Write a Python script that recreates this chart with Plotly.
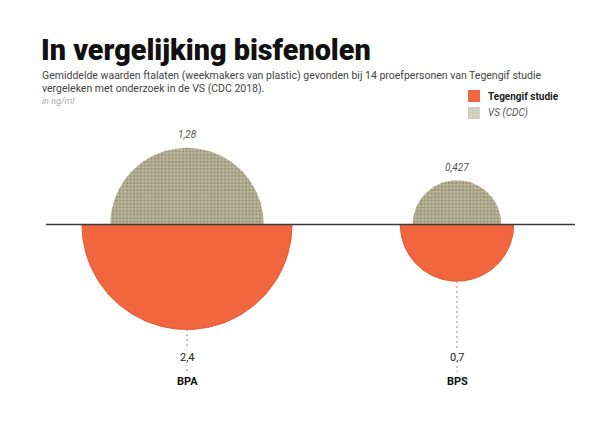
import numpy as np
import plotly.graph_objects as go

# data (ng/ml)
compounds = ["BPA", "BPS"]
tegengif = [2.4, 0.7]
vs_cdc = [1.28, 0.427]
tegengif_labels = ["2,4", "0,7"]
vs_labels = ["1,28", "0,427"]

ORANGE = "#f1653f"
ORANGE_EDGE = "#e9552f"
KHAKI = "#9b9574"

# layout in pixel-like units: y = 0 is the baseline
W, H = 600, 425
PAGE = 8  # body margin of the html page
BASE = 224.5
R_MAX = 105
centers = [187, 457]


def radius(v):
    # area proportional to value
    return R_MAX * np.sqrt(v / max(tegengif))


def half_circle(cx, r, up=True):
    t = np.linspace(0, np.pi, 120)
    xs = cx + r * np.cos(t)
    ys = r * np.sin(t) * (1 if up else -1)
    return xs, ys


fig = go.Figure()

pattern = dict(shape="+", fgcolor="white", bgcolor=KHAKI, size=3.5, solidity=0.38, fillmode="overlay")

for cx, name, t_val, v_val, t_lab, v_lab in zip(centers, compounds, tegengif, vs_cdc,
                                                 tegengif_labels, vs_labels):
    rt = radius(t_val)
    rv = radius(v_val)

    # dotted leader under the orange half
    fig.add_trace(go.Scatter(x=[cx, cx], y=[-rt, BASE - 372], mode="lines",
                             line=dict(color="#9a9a9a", width=1.5, dash="1.5px,3.5px"),
                             hoverinfo="skip", showlegend=False))

    xs, ys = half_circle(cx, rt, up=False)
    fig.add_trace(go.Scatter(x=xs, y=ys, mode="lines", fill="toself", fillcolor=ORANGE,
                             line=dict(color=ORANGE_EDGE, width=1),
                             hoverinfo="skip", showlegend=False))

    xs, ys = half_circle(cx, rv, up=True)
    fig.add_trace(go.Scatter(x=xs, y=ys, mode="lines", fill="toself",
                             fillpattern=pattern, fillcolor="rgba(0,0,0,0)",
                             line=dict(width=0, color="rgba(0,0,0,0)"),
                             hoverinfo="skip", showlegend=False))

    fig.add_annotation(x=cx, y=rv + 13, text=f"<i>{v_lab}</i>", showarrow=False,
                       font=dict(size=10, color="#555555"))
    fig.add_annotation(x=cx, y=BASE - 357, text=t_lab, showarrow=False, bgcolor="white",
                       font=dict(size=11, color="#222222"))
    fig.add_annotation(x=cx, y=BASE - 381, text=f"<b>{name}</b>", showarrow=False,
                       bgcolor="white", font=dict(size=11, color="#111111"))

# baseline
fig.add_trace(go.Scatter(x=[46, 575], y=[0, 0], mode="lines",
                         line=dict(color="#3a3a3a", width=1.6),
                         hoverinfo="skip", showlegend=False))

# legend swatches
sq = 12
for y_px, kw in [(90, dict(fillcolor=ORANGE)),
                 (107, dict(fillcolor="rgba(0,0,0,0)",
                            fillpattern=dict(shape="+", fgcolor="white", bgcolor="#c9c6b4",
                                             size=2.5, solidity=0.3)))]:
    y0 = BASE - y_px
    fig.add_trace(go.Scatter(x=[468, 468 + sq, 468 + sq, 468, 468],
                             y=[y0, y0, y0 - sq, y0 - sq, y0], mode="lines", fill="toself",
                             line=dict(width=0, color="rgba(0,0,0,0)"),
                             hoverinfo="skip", showlegend=False, **kw))

fig.add_annotation(x=486, y=BASE - 96, text="<b>Tegengif studie</b>", showarrow=False,
                   xanchor="left", font=dict(size=10, color="#222222"))
fig.add_annotation(x=486, y=BASE - 113, text="<i>VS (CDC)</i>", showarrow=False,
                   xanchor="left", font=dict(size=10, color="#555555"))

# titles
fig.add_annotation(x=39, y=BASE - 50, text="In vergelijking bisfenolen", showarrow=False,
                   xanchor="left", font=dict(family="Roboto", size=28.8, color="#111111", weight=900))
fig.add_annotation(x=40, y=BASE - 75,
                   text="Gemiddelde waarden ftalaten (weekmakers van plastic) gevonden bij 14 proefpersonen van Tegengif studie",
                   showarrow=False, xanchor="left", font=dict(size=10.5, color="#444444"))
fig.add_annotation(x=40, y=BASE - 88, text="vergeleken met onderzoek in de VS (CDC 2018).",
                   showarrow=False, xanchor="left", font=dict(size=10.5, color="#444444"))
fig.add_annotation(x=40, y=BASE - 101, text="<i>in ng/ml</i>", showarrow=False,
                   xanchor="left", font=dict(size=9, color="#aaaaaa"))

fig.update_layout(
    width=W, height=H,
    margin=dict(l=0, r=0, t=0, b=0),
    paper_bgcolor="white", plot_bgcolor="white",
    font=dict(family="Roboto"),
    # ranges offset by the page margin so data units line up with window pixels
    xaxis=dict(range=[PAGE, W + PAGE], visible=False, fixedrange=True),
    yaxis=dict(range=[BASE - PAGE - H, BASE - PAGE], visible=False, fixedrange=True),
)

fig.write_html("out.html")
